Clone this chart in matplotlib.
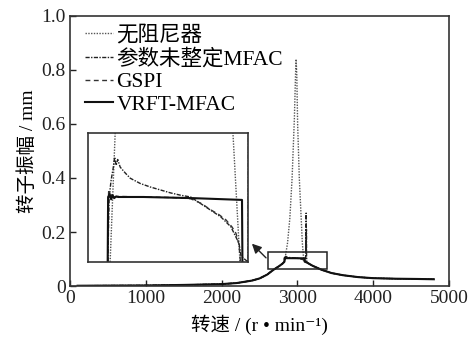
import matplotlib
matplotlib.use('Agg')
import matplotlib.pyplot as plt
from matplotlib.patches import Rectangle

plt.rcParams['font.family'] = ['Liberation Serif', 'Noto Sans CJK SC', 'DejaVu Serif']

# 共振前后的公共段 (转速 r/min, 振幅 mm)
rpm_rise = [100, 500, 1000, 1500, 2000, 2200, 2400, 2500, 2600, 2660, 2700, 2750, 2800]
amp_rise = [0.001, 0.0015, 0.002, 0.004, 0.007, 0.011, 0.02, 0.028, 0.042, 0.055, 0.063, 0.072, 0.082]
rpm_fall = [3125, 3200, 3320, 3450, 3600, 3800, 4000, 4300, 4600, 4800]
amp_fall = [0.087, 0.075, 0.06, 0.048, 0.040, 0.033, 0.029, 0.027, 0.026, 0.025]

# 无阻尼器 共振峰
rpm_peak = [2834, 2844, 2870, 2900, 2930, 2960, 2975, 2983, 2992, 3003, 3025, 3050, 3065, 3078, 3092]
amp_peak = [0.092, 0.114, 0.16, 0.25, 0.40, 0.62, 0.78, 0.84, 0.78, 0.60, 0.40, 0.25, 0.16, 0.114, 0.092]

# 控制段
rpm_vrft = [2829, 2830, 2833, 2836, 2839, 2842, 2846, 2850, 2900, 3000, 3096, 3097]
amp_vrft = [0.090, 0.1031, 0.1036, 0.1027, 0.1034, 0.1029, 0.1032, 0.1031, 0.1031, 0.1029, 0.1026, 0.090]

rpm_gspi = [2829, 2831, 2834, 2838, 2843, 2850, 2900, 2960, 2994, 3015, 3034, 3050, 3064, 3076, 3084, 3090, 3095]
amp_gspi = [0.090, 0.1040, 0.1030, 0.1036, 0.1031, 0.1032, 0.1031, 0.1030, 0.1028, 0.1020, 0.1009, 0.1001,
            0.0992, 0.0980, 0.0969, 0.0950, 0.090]

rpm_mfac0 = [2829, 2832, 2836, 2840, 2843, 2846, 2849, 2854, 2864, 2874, 2894, 2914, 2934, 2954, 2974, 2994,
             3024, 3054, 3074, 3090, 3094, 3108, 3111, 3113, 3115, 3117, 3119, 3121, 3124]
amp_mfac0 = [0.090, 0.1030, 0.1060, 0.1080, 0.1099, 0.1085, 0.1095, 0.1082, 0.1072, 0.1063, 0.1054, 0.1048,
             0.1043, 0.1038, 0.1034, 0.1031, 0.1014, 0.0997, 0.0980, 0.0952, 0.0930, 0.092, 0.17, 0.12,
             0.27, 0.14, 0.21, 0.11, 0.09]

labels = ['无阻尼器', '参数未整定MFAC', 'GSPI', 'VRFT-MFAC']

x_none = rpm_rise + rpm_peak + rpm_fall
y_none = amp_rise + amp_peak + amp_fall
x_mfac0 = rpm_rise + rpm_mfac0 + rpm_fall
y_mfac0 = amp_rise + amp_mfac0 + amp_fall
x_gspi = rpm_rise + rpm_gspi + rpm_fall
y_gspi = amp_rise + amp_gspi + amp_fall
x_vrft = rpm_rise + rpm_vrft + rpm_fall
y_vrft = amp_rise + amp_vrft + amp_fall

styles = [
    dict(color='#555555', lw=1.0, ls=(0, (1, 1))),
    dict(color='#222222', lw=1.0, ls=(0, (3, 1, 1, 1))),
    dict(color='#333333', lw=1.0, ls=(0, (3.5, 2.5))),
    dict(color='#111111', lw=1.5, ls='-'),
]
series = [(x_none, y_none), (x_mfac0, y_mfac0), (x_gspi, y_gspi), (x_vrft, y_vrft)]

fig = plt.figure(figsize=(4.68, 3.4), dpi=100)
ax = fig.add_axes([0.1496, 0.1588, 0.8098, 0.7942])

for (xs, ys), st, lab in zip(series, styles, labels):
    ax.plot(xs, ys, label=lab, **st)

ax.set_xlim(0, 5000)
ax.set_ylim(0, 1.0)
ax.set_xticks([0, 1000, 2000, 3000, 4000, 5000])
ax.set_yticks([0, 0.2, 0.4, 0.6, 0.8, 1.0])
ax.set_yticklabels(['0', '0.2', '0.4', '0.6', '0.8', '1.0'])
ax.tick_params(direction='in', length=4, width=1, labelsize=14, colors='#222222', pad=3)
for sp in ax.spines.values():
    sp.set_linewidth(1.2)
    sp.set_color('#333333')
ax.set_xlabel('转速 / (r • min⁻¹)', fontsize=14, labelpad=5)
ax.set_ylabel('转子振幅 / mm', fontsize=14, labelpad=3)

leg = ax.legend(loc='upper left', frameon=False, fontsize=15.5, handlelength=1.3,
                handletextpad=0.15, labelspacing=0.13, borderaxespad=0.3,
                bbox_to_anchor=(0.0, 1.02))

# 局部放大框及箭头
ax.add_patch(Rectangle((2610, 0.063), 780, 0.063, fill=False, lw=1.1, ec='#222222', zorder=5))
ax.annotate('', xy=(2374, 0.164), xytext=(2612, 0.097),
            arrowprops=dict(arrowstyle='-|>', color='#222222', lw=1.0, mutation_scale=14))

axins = fig.add_axes([0.188, 0.2294, 0.342, 0.379])
for (xs, ys), st in zip(series, styles):
    axins.plot(xs, ys, **st)
axins.set_xlim(2790, 3108)
axins.set_ylim(0.092, 0.114)
axins.set_xticks([])
axins.set_yticks([])
for sp in axins.spines.values():
    sp.set_linewidth(1.2)
    sp.set_color('#333333')

fig.savefig('out.png', dpi=100)
